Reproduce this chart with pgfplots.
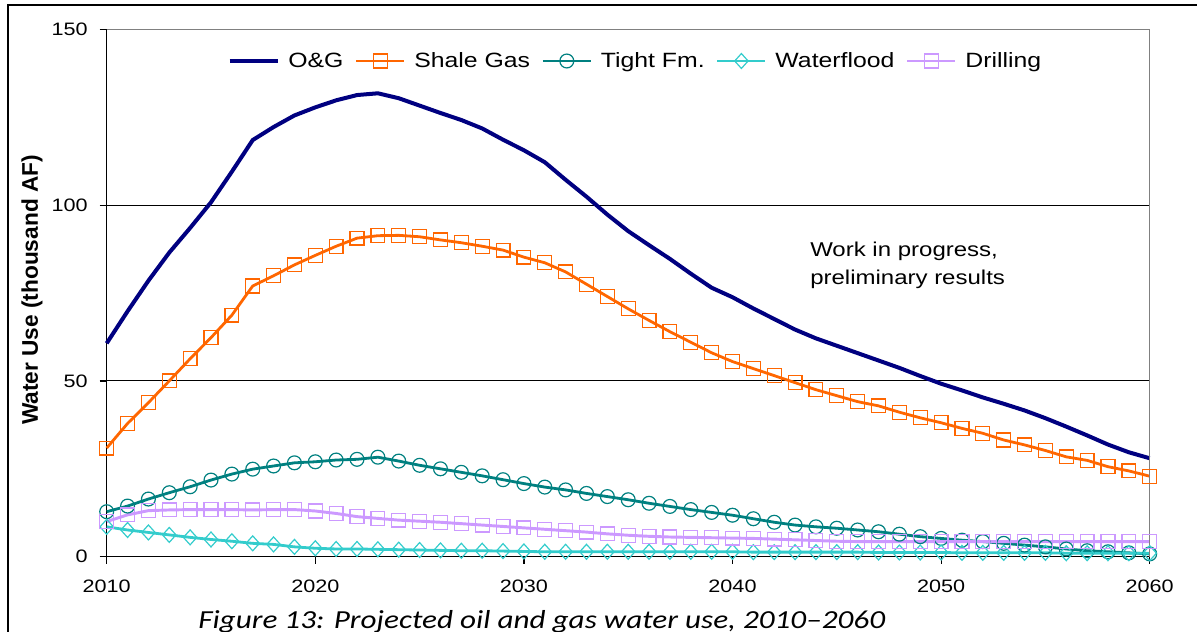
\documentclass[border=0pt]{standalone}
\usepackage{fontspec}
\setmainfont{Liberation Sans}[FakeStretch=1.2]
\newfontfamily\ylabfont{Liberation Sans}
\newfontfamily\capfont{Carlito}[FakeStretch=1.2]
\usepackage{pgfplots}
\usepackage{pgfplotstable}
\pgfplotsset{compat=1.18}
\definecolor{cOG}{HTML}{000080}
\definecolor{cSh}{HTML}{FF6600}
\definecolor{cTi}{HTML}{008080}
\definecolor{cWa}{HTML}{33CCCC}
\definecolor{cDr}{HTML}{CC99FF}
\definecolor{cGr}{HTML}{808080}
\def\u{0.75pt}
\pgfplotstableread{
year og shale tight water drill
2010 60.7 30.9 12.8 8.5 10.0
2011 69.8 37.9 14.4 7.6 11.9
2012 78.5 43.8 16.4 6.9 13.1
2013 86.5 50.0 18.2 6.2 13.3
2014 93.5 56.3 19.9 5.5 13.4
2015 100.8 62.3 21.8 4.9 13.4
2016 109.5 68.7 23.5 4.4 13.4
2017 118.5 77.0 24.9 3.8 13.3
2018 122.2 79.9 25.8 3.5 13.4
2019 125.5 83.0 26.7 2.8 13.4
2020 127.8 85.7 27.0 2.4 13.0
2021 129.8 88.3 27.5 2.2 12.3
2022 131.3 90.6 27.7 2.2 11.4
2023 131.8 91.3 28.3 2.1 10.9
2024 130.4 91.4 27.2 2.0 10.4
2025 128.3 91.0 26.0 1.9 10.1
2026 126.2 90.1 25.0 1.8 9.8
2027 124.2 89.3 24.0 1.7 9.4
2028 121.8 88.3 23.0 1.7 9.0
2029 118.6 87.2 21.9 1.6 8.6
2030 115.6 85.2 20.8 1.5 8.2
2031 112.2 83.6 19.8 1.4 7.8
2032 107.2 81.0 19.0 1.4 7.4
2033 102.4 77.5 18.0 1.4 7.0
2034 97.3 74.0 17.1 1.4 6.5
2035 92.6 70.5 16.2 1.4 6.1
2036 88.6 67.2 15.2 1.4 5.8
2037 84.7 64.0 14.3 1.4 5.6
2038 80.5 61.0 13.4 1.4 5.5
2039 76.5 58.0 12.6 1.4 5.4
2040 73.8 55.5 11.8 1.4 5.3
2041 70.6 53.5 10.8 1.3 5.2
2042 67.6 51.5 9.8 1.3 5.0
2043 64.6 49.5 9.0 1.3 4.8
2044 62.1 47.5 8.5 1.3 4.6
2045 60.0 45.8 8.1 1.3 4.4
2046 57.9 44.1 7.6 1.3 4.3
2047 55.8 42.9 7.1 1.2 4.3
2048 53.7 41.1 6.4 1.2 4.3
2049 51.4 39.5 5.7 1.2 4.3
2050 49.2 38.1 5.2 1.2 4.3
2051 47.3 36.5 4.7 1.1 4.3
2052 45.3 35.1 4.3 1.1 4.3
2053 43.5 33.2 3.8 1.1 4.3
2054 41.6 31.8 3.3 1.1 4.3
2055 39.4 30.2 2.8 1.1 4.3
2056 37.0 28.4 2.2 1.0 4.3
2057 34.5 27.4 1.7 1.0 4.3
2058 31.9 25.6 1.4 1.0 4.3
2059 29.7 24.4 1.1 1.0 4.3
2060 28.0 22.9 0.8 1.0 4.3
}\datatable
\begin{document}
\begin{tikzpicture}
\path[use as bounding box] (0,0) rectangle ({1197*\u},{-632*\u});
\clip (0,0) rectangle ({1197*\u},{-632*\u});
\draw[line width={1.5*\u}] ({8*\u},{-5*\u}) rectangle ({1230*\u},{-700*\u});
\begin{axis}[
  scale only axis,
  width={1043*\u}, height={527.4*\u},
  at={({106.7*\u},{-556.7*\u})}, anchor=south west,
  xmin=2010, xmax=2060, ymin=0, ymax=150,
  xtick={2010,2020,...,2060}, ytick={0,50,100,150},
  axis x line*=bottom, axis y line*=left,
  axis line style={-, black, line width={1.4*\u}},
  tick align=outside, major tick length={7*\u},
  tick style={black, line width={1.2*\u}},
  ymajorgrids, major grid style={black, line width={1.1*\u}},
  ticklabel style={font=\fontsize{13.5pt}{16pt}\selectfont},
  xticklabel style={yshift=-9pt},
  yticklabel style={xshift=-5.5pt},
  /pgf/number format/1000 sep={},
  /pgf/number format/assume math mode=true,
  clip=false,
  legend columns=5,
  legend style={draw=none, fill=none, inner sep=0pt, outer sep=0pt,
    at={(axis description cs:0.116,0.9399)}, anchor=west,
    font=\fontsize{15.5pt}{18pt}\selectfont,
    column sep=6.5pt,
    nodes={inner sep=0pt},
    /tikz/every even column/.append style={column sep=8.5pt}},
  legend image code/.code={\draw[mark repeat=2, mark phase=2, #1] plot coordinates {(0pt,0pt) (18pt,0pt) (36pt,0pt)};},
]
\addplot[cOG, line width=3pt, no markers] table[x=year, y=og] {\datatable};
\addlegendentry{O\&G}
\addplot[cSh, line width=2.1pt, mark=square, mark size=5.2pt, mark options={line width=0.9pt, fill=none, solid}] table[x=year, y=shale] {\datatable};
\addlegendentry{Shale Gas}
\addplot[cTi, line width=2.1pt, mark=o, mark size=5.2pt, mark options={line width=0.9pt, fill=none, solid}] table[x=year, y=tight] {\datatable};
\addlegendentry{Tight Fm.}
\addplot[cWa, line width=2.1pt, mark=diamond, mark size=5.6pt, mark options={line width=0.9pt, fill=none, solid, xscale=1.2}] table[x=year, y=water] {\datatable};
\addlegendentry{Waterflood}
\addplot[cDr, line width=2.2pt, mark=square, mark size=5.2pt, mark options={line width=0.9pt, fill=none, solid}] table[x=year, y=drill] {\datatable};
\addlegendentry{Drilling}
\draw[cGr, line width={1.5*\u}] (axis cs:2010,150) -- (axis cs:2060,150) -- (axis cs:2060,0);
\end{axis}
\node[anchor=base west, inner sep=0pt, font=\fontsize{15pt}{20pt}\selectfont] at ({810*\u},{-256*\u}) {Work in progress,};
\node[anchor=base west, inner sep=0pt, font=\fontsize{15pt}{20pt}\selectfont] at ({810*\u},{-284*\u}) {preliminary results};
\node[rotate=90, inner sep=0pt, font=\ylabfont\bfseries\fontsize{17pt}{20pt}\selectfont] at ({32*\u},{-290*\u}) {Water Use (thousand AF)};
\node[anchor=base west, inner sep=0pt, font=\capfont\itshape\fontsize{19.5pt}{22pt}\selectfont] at ({198*\u},{-628*\u}) {Figure 13: Projected oil and gas water use, 2010–2060};
\end{tikzpicture}
\end{document}
